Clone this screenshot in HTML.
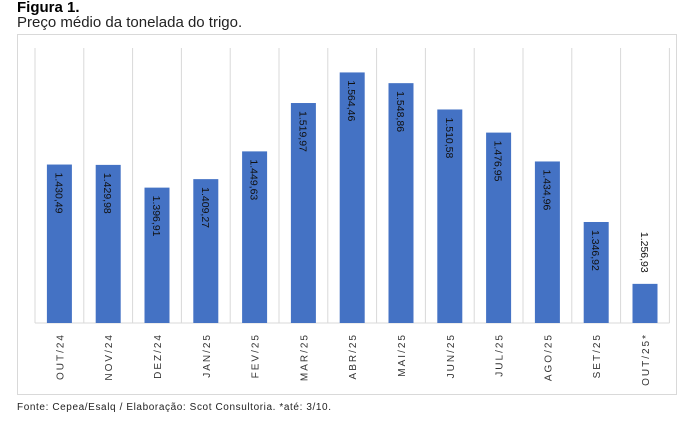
<!DOCTYPE html>
<html><head><meta charset="utf-8"><style>
body{margin:0;background:#fff;width:694px;height:428px;overflow:hidden;font-family:"Liberation Sans",sans-serif}
</style></head><body>
<div style="position:absolute;left:17px;top:-1px;font-weight:bold;font-size:15px">Figura 1.</div>
<div style="position:absolute;left:17px;top:14px;font-size:15px;color:#222">Preço médio da tonelada do trigo.</div>
<svg width="694" height="428" style="position:absolute;left:0;top:0">
<rect x="17.5" y="34.5" width="659" height="360" fill="none" stroke="#d9d9d9"/>
<g id="g"></g>
</svg>
<div style="position:absolute;left:17px;top:402px;font-size:10px;letter-spacing:0.6px;color:#222">Fonte: Cepea/Esalq / Elaboração: Scot Consultoria. *até: 3/10.</div>
<script>
const categories=["OUT/24","NOV/24","DEZ/24","JAN/25","FEV/25","MAR/25","ABR/25","MAI/25","JUN/25","JUL/25","AGO/25","SET/25","OUT/25*"];
const values=[1430.49,1429.98,1396.91,1409.27,1449.63,1519.97,1564.46,1548.86,1510.58,1476.95,1434.96,1346.92,1256.93];
const labels=["1.430,49","1.429,98","1.396,91","1.409,27","1.449,63","1.519,97","1.564,46","1.548,86","1.510,58","1.476,95","1.434,96","1.346,92","1.256,93"];
const yMin=1200,yMax=1600;
const x0=35,step=48.8,base=323,top_=48;
const y=v=>base-(v-yMin)/(yMax-yMin)*(base-top_);
const xs=i=>x0+i*step;
const g=document.getElementById('g');
const ns='http://www.w3.org/2000/svg';
function mk(t,a){const e=document.createElementNS(ns,t);for(const k in a)e.setAttribute(k,a[k]);g.appendChild(e);return e;}
for(let i=0;i<=categories.length;i++){
 const l=mk('line',{x1:xs(i),x2:xs(i),y1:top_,y2:base,stroke:'#d9d9d9'});
 
 
}
const ax=mk('line',{x1:xs(0),x2:xs(categories.length),y1:base,y2:base,stroke:'#d9d9d9'});


categories.forEach((c,i)=>{
 const cx=xs(i)+step/2,bw=25;
 const b=mk('rect',{x:cx-bw/2,y:y(values[i]),width:bw,height:base-y(values[i]),fill:'#4472c4'});
 
 
 const ty=values[i]<1300?y(values[i])-52:y(values[i])+8;
 const t=mk('text',{x:0,y:0,transform:`translate(${cx-4},${ty}) rotate(90)`,'font-size':'10.5','fill':'#111'});
 t.textContent=labels[i];
 
 
 const ct=mk('text',{x:0,y:0,transform:`translate(${cx+4},${333}) rotate(-90)`,'font-size':'10','text-anchor':'end','letter-spacing':'2','fill':'#333'});
 ct.textContent=c;
 
 
});
</script>
</body></html>
